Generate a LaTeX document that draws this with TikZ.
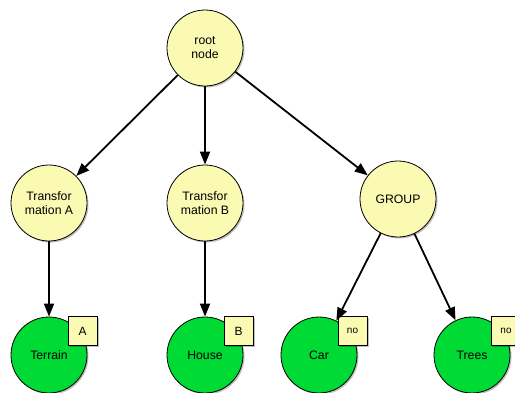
\documentclass[tikz,border=0pt]{standalone}
\usepackage{fontspec}
\setmainfont{Liberation Sans}
\usetikzlibrary{arrows.meta,shadows}
\definecolor{paleyellow}{RGB}{250,250,178}
\definecolor{leafgreen}{RGB}{0,218,52}
\tikzset{
  soft/.style={drop shadow={shadow xshift=1.5bp,shadow yshift=-1.5bp,opacity=0.25,fill=black}},
  inner/.style={circle,draw=black,line width=0.8bp,fill=paleyellow,minimum size=76bp,inner sep=0pt,
    align=center,font=\fontsize{12.3}{14}\selectfont,soft},
  leaf/.style={circle,draw=black,line width=0.8bp,fill=leafgreen,minimum size=76bp,inner sep=0pt,
    font=\fontsize{12.3}{14}\selectfont,soft},
  tag/.style={rectangle,draw=black,line width=0.6bp,fill=paleyellow,minimum size=29bp,inner sep=0pt,
    font=\fontsize{12}{14}\selectfont,soft},
  tagsmall/.style={tag,font=\fontsize{10}{12}\selectfont},
  edge/.style={line width=1.8bp,-{Triangle[length=13bp,width=10bp]}}
}
\begin{document}
\begin{tikzpicture}[x=1bp,y=-1bp]
\useasboundingbox (0,0) rectangle (515,392);
% tree nodes
\node[inner] (root) at (205,48) {root\\node};
\node[inner] (ta) at (49,203) {Transfor\\mation A};
\node[inner] (tb) at (205,203) {Transfor\\mation B};
\node[inner] (grp) at (398,199) {GROUP};
\node[leaf] (terrain) at (49,355) {Terrain};
\node[leaf] (house) at (205,355) {House};
\node[leaf] (car) at (319,355) {Car};
\node[leaf] (trees) at (472,355) {Trees};
% tags on the leaves
\node[tag] (tagA) at (82.5,331) {A};
\node[tag] (tagB) at (238.5,331) {B};
\node[tagsmall] (tagC) at (352.5,331) {no};
\node[tagsmall] (tagT) at (506,331) {no};
% connectors
\draw[edge] (root) -- (ta);
\draw[edge] (root) -- (tb);
\draw[edge] (root) -- (grp);
\draw[edge] (ta) -- (terrain);
\draw[edge] (tb) -- (house);
\draw[edge] (grp) -- (car);
\draw[edge] (grp) -- (trees);
\end{tikzpicture}
\end{document}
